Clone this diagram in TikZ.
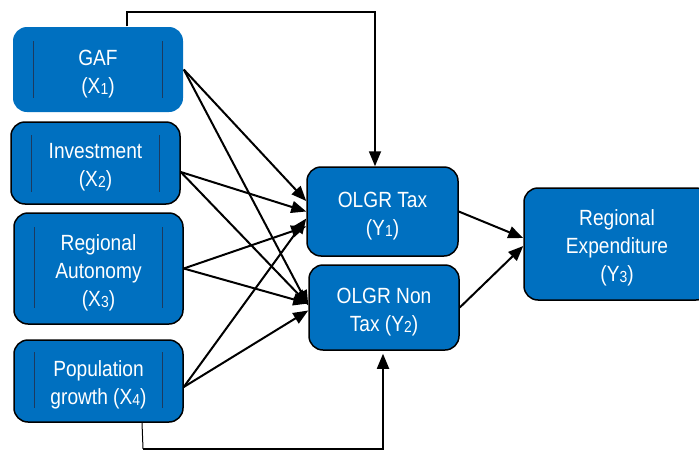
\documentclass[tikz,border=0pt]{standalone}
\usepackage{fontspec}
\setmainfont{Liberation Sans}[FakeStretch=0.87]
\usetikzlibrary{arrows.meta,calc}
\definecolor{boxblue}{RGB}{0,112,192}
\definecolor{innerline}{RGB}{28,58,95}
\newcommand{\lowsub}[1]{{\fontsize{16}{16}\selectfont\raisebox{-1pt}{#1}}}
\newcommand{\boxlines}[1]{\raisebox{-4pt}[\height][\depth]{\begin{tabular}{@{}c@{}}#1\end{tabular}}}
\begin{document}
\begin{tikzpicture}[x=1pt,y=-1pt,
  box/.style={fill=boxblue, draw=black, line width=1.5pt, rounded corners=14pt, text=white, font=\fontsize{22}{28}\selectfont, inner sep=0pt},
  link/.style={draw=black, line width=2pt, -{Triangle[length=15pt,width=12pt]}},
  plainline/.style={draw=black, line width=1.8pt},
  thinline/.style={draw=black, line width=1pt},
  innerbar/.style={draw=innerline, line width=0.8pt}]
\useasboundingbox (0,0) rectangle (699,450);

\node[box, draw=none, minimum width=170pt, minimum height=85pt] (gaf) at (98,69.5) {\boxlines{GAF\\(X\lowsub{1})}};
\node[box, minimum width=169pt, minimum height=82pt] (inv) at (95.5,163) {\boxlines{Investment\\(X\lowsub{2})}};
\node[box, minimum width=169pt, minimum height=111pt] (ra) at (98.5,268.5) {\boxlines{Regional\\Autonomy\\(X\lowsub{3})}};
\node[box, minimum width=169pt, minimum height=82pt] (pop) at (98.5,381) {\boxlines{Population\\growth (X\lowsub{4})}};
\node[box, minimum width=151pt, minimum height=89pt] (tax) at (382.5,211.5) {\boxlines{OLGR Tax\\(Y\lowsub{1})}};
\node[box, minimum width=150pt, minimum height=85pt] (nontax) at (384,307.5) {\boxlines{OLGR Non\\Tax (Y\lowsub{2})}};
\begin{scope}
\clip (0,0) rectangle (699,450);
\node[box, minimum width=186pt, minimum height=112pt] (re) at (617,244) {\boxlines{Regional\\Expenditure\\(Y\lowsub{3})}};
\end{scope}

% inner bars
\foreach \n/\t/\b in {gaf/15/15, inv/14/13, ra/15/17, pop/13/15}{
  \draw[innerbar] ($(\n.north west)+(21,\t)$) -- ($(\n.south west)+(21,-\b)$);
  \draw[innerbar] ($(\n.north east)+(-21,\t)$) -- ($(\n.south east)+(-21,-\b)$);
}

% top connector
\draw[plainline, -{Triangle[length=15pt,width=12pt]}] ([xshift=29pt]gaf.north) -- ++(0,-14) -| ([xshift=-7.5pt]tax.north);

% bottom connector
\draw[thinline] ([xshift=43.5pt]pop.south) -- ++(1,26) coordinate (bc);
\draw[plainline, -{Triangle[length=15pt,width=12pt]}, shorten >=3pt] (bc) -| ([xshift=-1pt]nontax.south);

% diagonal links
\draw[link] (gaf.east) -- ([yshift=10.5pt]tax.west);
\draw[link] (gaf.east) -- ([yshift=2pt]nontax.west);
\draw[link] ([yshift=-9pt]inv.east) -- (tax.west);
\draw[link] ([yshift=-9pt]inv.east) -- ([yshift=3pt]nontax.west);
\draw[link] (ra.east) -- ([yshift=-15pt]tax.west);
\draw[link] (ra.east) -- ([yshift=4pt]nontax.west);
\draw[link] ([yshift=-6pt]pop.east) -- ([yshift=-7pt]tax.west);
\draw[link] ([yshift=-6pt]pop.east) -- ([yshift=-3pt]nontax.west);

\draw[link] (tax.east) -- ([yshift=6pt]re.west);
\draw[link] (nontax.east) -- ([yshift=-2pt]re.west);
\end{tikzpicture}
\end{document}
